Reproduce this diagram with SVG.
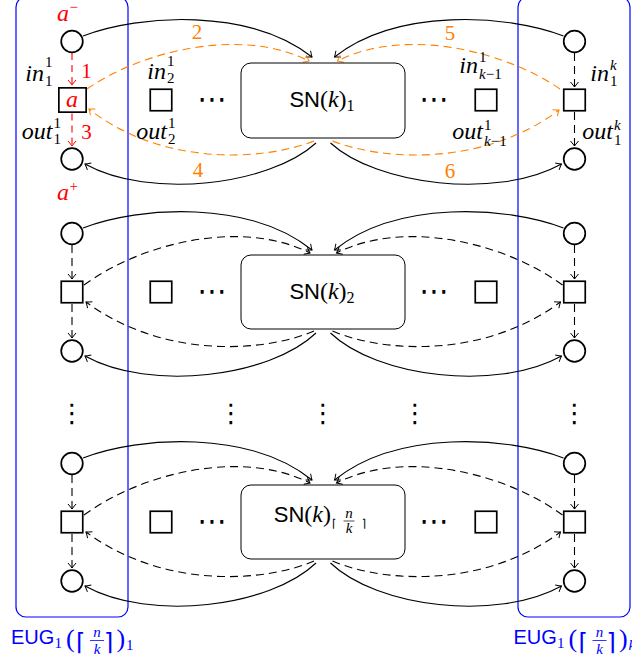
<svg xmlns="http://www.w3.org/2000/svg" width="632" height="660" viewBox="0 0 632 660">
<defs>
<style>
.node{fill:#fff;stroke:#000;stroke-width:1.7}
.sn{fill:#fff;stroke:#000;stroke-width:1}
.grp{fill:none;stroke:#0000ff;stroke-width:1.2}
.c{fill:none;stroke-width:1.1}
.solid{stroke:#000}
.dash{stroke:#000;stroke-dasharray:8 5}
.odash{stroke:#ff8000;stroke-dasharray:8 5}
.rdash{stroke:#ff0000;stroke-dasharray:7 5}
.mi{font-family:"Liberation Serif",serif;font-style:italic;font-size:24px}
.rm{font-family:"Liberation Serif",serif;font-size:21px}
.sc{font-family:"Liberation Serif",serif;font-size:15px}
.sci{font-family:"Liberation Serif",serif;font-style:italic;font-size:15px}
.sf{font-family:"Liberation Sans",sans-serif}
.dots{font-family:"DejaVu Sans",sans-serif;font-size:29px;text-anchor:middle}
.vdots{font-family:"DejaVu Sans",sans-serif;font-size:26px;text-anchor:middle}
.end{text-anchor:end}
.mid{text-anchor:middle}
.red{fill:#ff0000}
.orange{fill:#ff8000}
.blue{fill:#0000ff}
</style>
<marker id="ab" markerUnits="userSpaceOnUse" markerWidth="12" markerHeight="12" refX="0" refY="0" orient="auto" overflow="visible"><path d="M-5,-4 Q-1.5,-1 0,0 Q-1.5,1 -5,4" fill="none" stroke="#000" stroke-width="1"/></marker>
<marker id="ao" markerUnits="userSpaceOnUse" markerWidth="12" markerHeight="12" refX="0" refY="0" orient="auto" overflow="visible"><path d="M-5,-4 Q-1.5,-1 0,0 Q-1.5,1 -5,4" fill="none" stroke="#ff8000" stroke-width="1"/></marker>
<marker id="ar" markerUnits="userSpaceOnUse" markerWidth="12" markerHeight="12" refX="0" refY="0" orient="auto" overflow="visible"><path d="M-5,-4 Q-1.5,-1 0,0 Q-1.5,1 -5,4" fill="none" stroke="#ff0000" stroke-width="1"/></marker>
</defs>
<rect width="632" height="660" fill="#fff"/>

<!-- groups (blue boxes) -->
<g id="eug1">
<rect class="grp" x="16" y="-3" width="112" height="620" rx="10"/>
<g class="blue">
<text class="sf" x="11" y="644" font-size="20">EUG</text>
<text class="sc" x="54.5" y="648" font-size="14">1</text>
<text x="66" y="647" font-family="Liberation Serif,serif" font-size="26">(</text>
<text x="76" y="650" font-family="DejaVu Sans,sans-serif" font-size="24">⌈</text>
<text class="sci mid" x="97" y="637" font-size="14">n</text>
<line x1="90" y1="640.5" x2="104" y2="640.5" stroke="#0000ff" stroke-width="0.8"/>
<text class="sci mid" x="97" y="654" font-size="14">k</text>
<text x="104" y="650" font-family="DejaVu Sans,sans-serif" font-size="24">⌉</text>
<text x="116.5" y="647" font-family="Liberation Serif,serif" font-size="26">)</text>
<text class="sc" x="126" y="650" font-size="14">1</text>
</g>
</g>
<g id="eugk">
<rect class="grp" x="518" y="-3" width="112" height="620" rx="10"/>
<g class="blue" transform="translate(502.5,0)">
<text class="sf" x="11" y="644" font-size="20">EUG</text>
<text class="sc" x="54.5" y="648" font-size="14">1</text>
<text x="66" y="647" font-family="Liberation Serif,serif" font-size="26">(</text>
<text x="76" y="650" font-family="DejaVu Sans,sans-serif" font-size="24">⌈</text>
<text class="sci mid" x="97" y="637" font-size="14">n</text>
<line x1="90" y1="640.5" x2="104" y2="640.5" stroke="#0000ff" stroke-width="0.8"/>
<text class="sci mid" x="97" y="654" font-size="14">k</text>
<text x="104" y="650" font-family="DejaVu Sans,sans-serif" font-size="24">⌉</text>
<text x="116.5" y="647" font-family="Liberation Serif,serif" font-size="26">)</text>
<text class="sci" x="126" y="650" font-size="14">k</text>
</g>
</g>

<!-- connectors -->
<g id="connectors" class="c">
<g id="row1-edges">
<path class="c solid" d="M83,36 C140,14 250,8 312,57" marker-end="url(#ab)"/>
<path class="c solid" d="M563.5,36 C506.5,14 396.5,8 334.5,57" marker-end="url(#ab)"/>
<path class="c odash" d="M87,89 C140,52 240,26 309,61" marker-end="url(#ao)"/>
<path class="c odash" d="M560,89 C506.5,52 406.5,26 337.5,61" marker-end="url(#ao)"/>
<path class="c odash" d="M314,141 C260,162 160,165 89,109" marker-end="url(#ao)"/>
<path class="c odash" d="M332.5,141 C386.5,162 486.5,165 559,110" marker-end="url(#ao)"/>
<path class="c solid" d="M316,143 C270,185 150,200 85,164" marker-end="url(#ab)"/>
<path class="c solid" d="M330.5,143 C376.5,185 496.5,200 561.5,164" marker-end="url(#ab)"/>
<path class="c rdash" d="M72,53 L72,85" marker-end="url(#ar)"/>
<path class="c rdash" d="M72,113.5 L72,146" marker-end="url(#ar)"/>
<path class="c dash" d="M574.5,53 L574.5,87" marker-end="url(#ab)"/>
<path class="c dash" d="M574.5,112 L574.5,146" marker-end="url(#ab)"/>
</g>
<g id="row2-edges" transform="translate(0,192)">
<path class="c solid" d="M83,36 C140,14 250,8 312,58" marker-end="url(#ab)"/>
<path class="c solid" d="M563.5,36 C506.5,14 396.5,8 334.5,58" marker-end="url(#ab)"/>
<path class="c dash" d="M84,93 C140,52 240,26 310,61" marker-end="url(#ab)"/>
<path class="c dash" d="M562.5,93 C506.5,52 406.5,26 336.5,61" marker-end="url(#ab)"/>
<path class="c dash" d="M314,139 C260,162 160,165 86,110" marker-end="url(#ab)"/>
<path class="c dash" d="M332.5,139 C386.5,162 486.5,165 560.5,110" marker-end="url(#ab)"/>
<path class="c solid" d="M316,141 C270,185 150,200 85,164" marker-end="url(#ab)"/>
<path class="c solid" d="M330.5,141 C376.5,185 496.5,200 561.5,164" marker-end="url(#ab)"/>
<path class="c dash" d="M72,53 L72,87" marker-end="url(#ab)"/>
<path class="c dash" d="M72,112 L72,146" marker-end="url(#ab)"/>
<path class="c dash" d="M574.5,53 L574.5,87" marker-end="url(#ab)"/>
<path class="c dash" d="M574.5,112 L574.5,146" marker-end="url(#ab)"/>
</g>
<g id="row3-edges" transform="translate(0,422)">
<path class="c solid" d="M83,36 C140,14 250,8 312,58" marker-end="url(#ab)"/>
<path class="c solid" d="M563.5,36 C506.5,14 396.5,8 334.5,58" marker-end="url(#ab)"/>
<path class="c dash" d="M84,93 C140,52 240,26 310,61" marker-end="url(#ab)"/>
<path class="c dash" d="M562.5,93 C506.5,52 406.5,26 336.5,61" marker-end="url(#ab)"/>
<path class="c dash" d="M314,139 C260,162 160,165 86,110" marker-end="url(#ab)"/>
<path class="c dash" d="M332.5,139 C386.5,162 486.5,165 560.5,110" marker-end="url(#ab)"/>
<path class="c solid" d="M316,141 C270,185 150,200 85,164" marker-end="url(#ab)"/>
<path class="c solid" d="M330.5,141 C376.5,185 496.5,200 561.5,164" marker-end="url(#ab)"/>
<path class="c dash" d="M72,53 L72,87" marker-end="url(#ab)"/>
<path class="c dash" d="M72,112 L72,146" marker-end="url(#ab)"/>
<path class="c dash" d="M574.5,53 L574.5,87" marker-end="url(#ab)"/>
<path class="c dash" d="M574.5,112 L574.5,146" marker-end="url(#ab)"/>
</g>
</g>

<!-- edge labels row 1 -->
<g id="edge-labels">
<text class="rm red mid" x="86.5" y="78">1</text>
<text class="rm red mid" x="86.5" y="139">3</text>
<text class="rm orange mid" x="197" y="39">2</text>
<text class="rm orange mid" x="198" y="177">4</text>
<text class="rm orange mid" x="450" y="40">5</text>
<text class="rm orange mid" x="450" y="178">6</text>
</g>

<!-- row 1 nodes -->
<g id="r1-aminus">
<circle class="node" cx="72" cy="41.5" r="10.8"/>
<text class="mi red" x="57" y="21">a</text><text class="sc red" x="69.5" y="12">−</text>
</g>
<g id="r1-a">
<rect class="node" x="58.85" y="87.85" width="27.3" height="24.3"/>
<text class="mi red mid" x="72" y="107">a</text>
<text class="mi end" x="44" y="81">in</text><text class="sc" x="45" y="67">1</text><text class="sc" x="45" y="86">1</text>
<text class="mi end" x="52.5" y="139">out</text><text class="sc" x="53.5" y="128">1</text><text class="sc" x="53.5" y="144">1</text>
</g>
<g id="r1-aplus">
<circle class="node" cx="72" cy="159" r="10.8"/>
<text class="mi red" x="57" y="200">a</text><text class="sc red" x="69.5" y="191">+</text>
</g>
<g id="r1-c2">
<rect class="node" x="150.25" y="89.25" width="21.5" height="21.5"/>
<text class="mi end" x="166" y="79">in</text><text class="sc" x="167" y="66">1</text><text class="sc" x="167" y="83">2</text>
<text class="mi end" x="167" y="139">out</text><text class="sc" x="168" y="128">1</text><text class="sc" x="168" y="144">2</text>
</g>
<g id="r1-sn">
<rect class="sn" x="241" y="63" width="164" height="75" rx="10"/>
<text x="322" y="107" text-anchor="middle"><tspan class="sf" font-size="22">SN</tspan><tspan font-family="Liberation Serif,serif" font-size="24">(</tspan><tspan font-family="Liberation Serif,serif" font-style="italic" font-size="24">k</tspan><tspan font-family="Liberation Serif,serif" font-size="24">)</tspan><tspan font-family="Liberation Serif,serif" font-size="16" dy="4">1</tspan></text>
</g>
<g id="r1-ck1">
<rect class="node" x="475.25" y="89.25" width="21.5" height="21.5"/>
<text class="mi end" x="478" y="73">in</text><text class="sc" x="479" y="62">1</text><text class="sc" x="479" y="79"><tspan font-style="italic">k</tspan>−1</text>
<text class="mi end" x="483" y="139">out</text><text class="sc" x="484" y="130">1</text><text class="sc" x="484" y="146"><tspan font-style="italic">k</tspan>−1</text>
</g>
<g id="r1-rtop">
<circle class="node" cx="574.5" cy="41.5" r="10.8"/>
</g>
<g id="r1-rsq">
<rect class="node" x="563.75" y="89.25" width="21.5" height="21.5"/>
<text class="mi end" x="609" y="81">in</text><text class="sci" x="610" y="70">k</text><text class="sc" x="610" y="86">1</text>
<text class="mi end" x="613" y="139">out</text><text class="sci" x="614" y="130">k</text><text class="sc" x="614" y="145">1</text>
</g>
<g id="r1-rbot">
<circle class="node" cx="574.5" cy="159" r="10.8"/>
</g>
<text class="dots" x="212" y="109">⋯</text>
<text class="dots" x="434" y="109">⋯</text>

<!-- row 2 nodes -->
<g id="r2-ltop"><circle class="node" cx="72" cy="233.5" r="10.8"/></g>
<g id="r2-lsq"><rect class="node" x="61.25" y="281.25" width="21.5" height="21.5"/></g>
<g id="r2-lbot"><circle class="node" cx="72" cy="351" r="10.8"/></g>
<g id="r2-c2"><rect class="node" x="150.25" y="281.25" width="21.5" height="21.5"/></g>
<g id="r2-sn">
<rect class="sn" x="241" y="255" width="164" height="74" rx="10"/>
<text x="322" y="299" text-anchor="middle"><tspan class="sf" font-size="22">SN</tspan><tspan font-family="Liberation Serif,serif" font-size="24">(</tspan><tspan font-family="Liberation Serif,serif" font-style="italic" font-size="24">k</tspan><tspan font-family="Liberation Serif,serif" font-size="24">)</tspan><tspan font-family="Liberation Serif,serif" font-size="16" dy="4">2</tspan></text>
</g>
<g id="r2-ck1"><rect class="node" x="475.25" y="281.25" width="21.5" height="21.5"/></g>
<g id="r2-rtop"><circle class="node" cx="574.5" cy="233.5" r="10.8"/></g>
<g id="r2-rsq"><rect class="node" x="563.75" y="281.25" width="21.5" height="21.5"/></g>
<g id="r2-rbot"><circle class="node" cx="574.5" cy="351" r="10.8"/></g>
<text class="dots" x="212" y="301">⋯</text>
<text class="dots" x="434" y="301">⋯</text>

<!-- vertical dots -->
<g class="vdots">
<text x="72" y="422">⋮</text>
<text x="231" y="422">⋮</text>
<text x="323" y="422">⋮</text>
<text x="415" y="422">⋮</text>
<text x="574.5" y="422">⋮</text>
</g>

<!-- row 3 nodes -->
<g id="r3-ltop"><circle class="node" cx="72" cy="463.5" r="10.8"/></g>
<g id="r3-lsq"><rect class="node" x="61.25" y="511.25" width="21.5" height="21.5"/></g>
<g id="r3-lbot"><circle class="node" cx="72" cy="581" r="10.8"/></g>
<g id="r3-c2"><rect class="node" x="150.25" y="511.25" width="21.5" height="21.5"/></g>
<g id="r3-sn">
<rect class="sn" x="241" y="485" width="164" height="74" rx="10"/>
<text x="331" y="522" text-anchor="end"><tspan class="sf" font-size="22">SN</tspan><tspan font-family="Liberation Serif,serif" font-size="24">(</tspan><tspan font-family="Liberation Serif,serif" font-style="italic" font-size="24">k</tspan><tspan font-family="Liberation Serif,serif" font-size="24">)</tspan></text>
<text x="332" y="527" font-family="DejaVu Sans,sans-serif" font-size="11">⌈</text>
<text class="sci mid" x="349" y="517.5" font-size="11">n</text>
<line x1="343.5" y1="521" x2="354.5" y2="521" stroke="#000" stroke-width="0.7"/>
<text class="sci mid" x="349" y="532.5" font-size="11">k</text>
<text x="362" y="527" font-family="DejaVu Sans,sans-serif" font-size="11">⌉</text>
</g>
<g id="r3-ck1"><rect class="node" x="475.25" y="511.25" width="21.5" height="21.5"/></g>
<g id="r3-rtop"><circle class="node" cx="574.5" cy="463.5" r="10.8"/></g>
<g id="r3-rsq"><rect class="node" x="563.75" y="511.25" width="21.5" height="21.5"/></g>
<g id="r3-rbot"><circle class="node" cx="574.5" cy="581" r="10.8"/></g>
<text class="dots" x="212" y="531">⋯</text>
<text class="dots" x="434" y="531">⋯</text>
</svg>
